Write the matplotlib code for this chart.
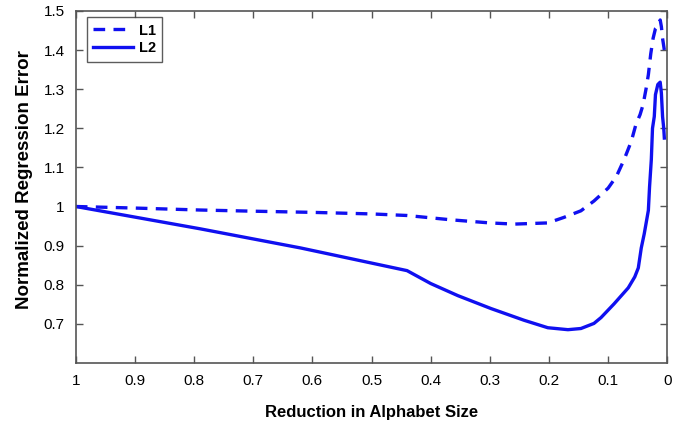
import numpy as np
import matplotlib.pyplot as plt

plt.rcParams['font.family'] = ['Liberation Sans', 'DejaVu Sans']

# L1 (dashed)
x_l1 = [1.0, 0.9, 0.79, 0.7, 0.6, 0.5, 0.44, 0.366, 0.3, 0.259, 0.202, 0.175,
        0.146, 0.124, 0.1, 0.086, 0.073, 0.061, 0.053, 0.046, 0.041, 0.036,
        0.032, 0.028, 0.024, 0.02, 0.016, 0.012, 0.01, 0.008, 0.006, 0.005]
y_l1 = [1.0, 0.996, 0.991, 0.988, 0.985, 0.981, 0.977, 0.966, 0.958, 0.955, 0.958,
        0.972, 0.989, 1.014, 1.047, 1.077, 1.12, 1.166, 1.21, 1.235, 1.26, 1.3,
        1.337, 1.39, 1.43, 1.455, 1.462, 1.477, 1.46, 1.43, 1.41, 1.40]

# L2 (solid)
x_l2 = [1.0, 0.79, 0.62, 0.44, 0.4, 0.354, 0.298, 0.242, 0.202, 0.168, 0.146,
        0.124, 0.112, 0.09, 0.066, 0.055, 0.049, 0.044, 0.039, 0.032, 0.03,
        0.027, 0.025, 0.022, 0.02, 0.016, 0.012, 0.01, 0.008, 0.006, 0.005]
y_l2 = [1.0, 0.943, 0.894, 0.836, 0.803, 0.772, 0.739, 0.709, 0.69, 0.685, 0.688,
        0.701, 0.716, 0.751, 0.792, 0.82, 0.843, 0.894, 0.93, 0.99, 1.05,
        1.12, 1.2, 1.23, 1.286, 1.312, 1.318, 1.29, 1.23, 1.2, 1.175]

xticks = [1, 0.9, 0.8, 0.7, 0.6, 0.5, 0.4, 0.3, 0.2, 0.1, 0]
xlabels = ['1', '0.9', '0.8', '0.7', '0.6', '0.5', '0.4', '0.3', '0.2', '0.1', '0']
yticks = [0.7, 0.8, 0.9, 1.0, 1.1, 1.2, 1.3, 1.4, 1.5]
ylabels = ['0.7', '0.8', '0.9', '1', '1.1', '1.2', '1.3', '1.4', '1.5']

fig = plt.figure(figsize=(6.83, 4.22), dpi=100)
ax = fig.add_axes([0.111, 0.14, 0.866, 0.834])

ax.plot(x_l1, y_l1, color='#1010f0', linestyle=(0, (3.5, 2.5)), linewidth=2.4, label='L1')
ax.plot(x_l2, y_l2, color='#1010f0', linestyle='-', linewidth=2.4, label='L2')

ax.set_xlim(1, 0)
ax.set_ylim(0.6, 1.5)
ax.set_xticks(xticks)
ax.set_xticklabels(xlabels)
ax.set_yticks(yticks)
ax.set_yticklabels(ylabels)
ax.tick_params(direction='in', top=True, right=True, length=5, width=1,
               color='#555555', labelsize=11, pad=8)
for s in ax.spines.values():
    s.set_color('#555555')
    s.set_linewidth(1.2)

ax.set_xlabel('Reduction in Alphabet Size', fontsize=12, fontweight='bold', labelpad=12)
ax.set_ylabel('Normalized Regression Error', fontsize=13.5, fontweight='bold')
ax.yaxis.set_label_coords(-0.072, 0.52)

leg = ax.legend(loc='upper left', bbox_to_anchor=(0.0186, 0.983), borderaxespad=0,
                fancybox=False, handlelength=2.75, handletextpad=0.35,
                labelspacing=0.25, borderpad=0.45,
                prop={'weight': 'bold', 'size': 10.5})
leg.get_frame().set_edgecolor('#333333')
leg.get_frame().set_linewidth(1)

fig.savefig('out.png', dpi=100)
